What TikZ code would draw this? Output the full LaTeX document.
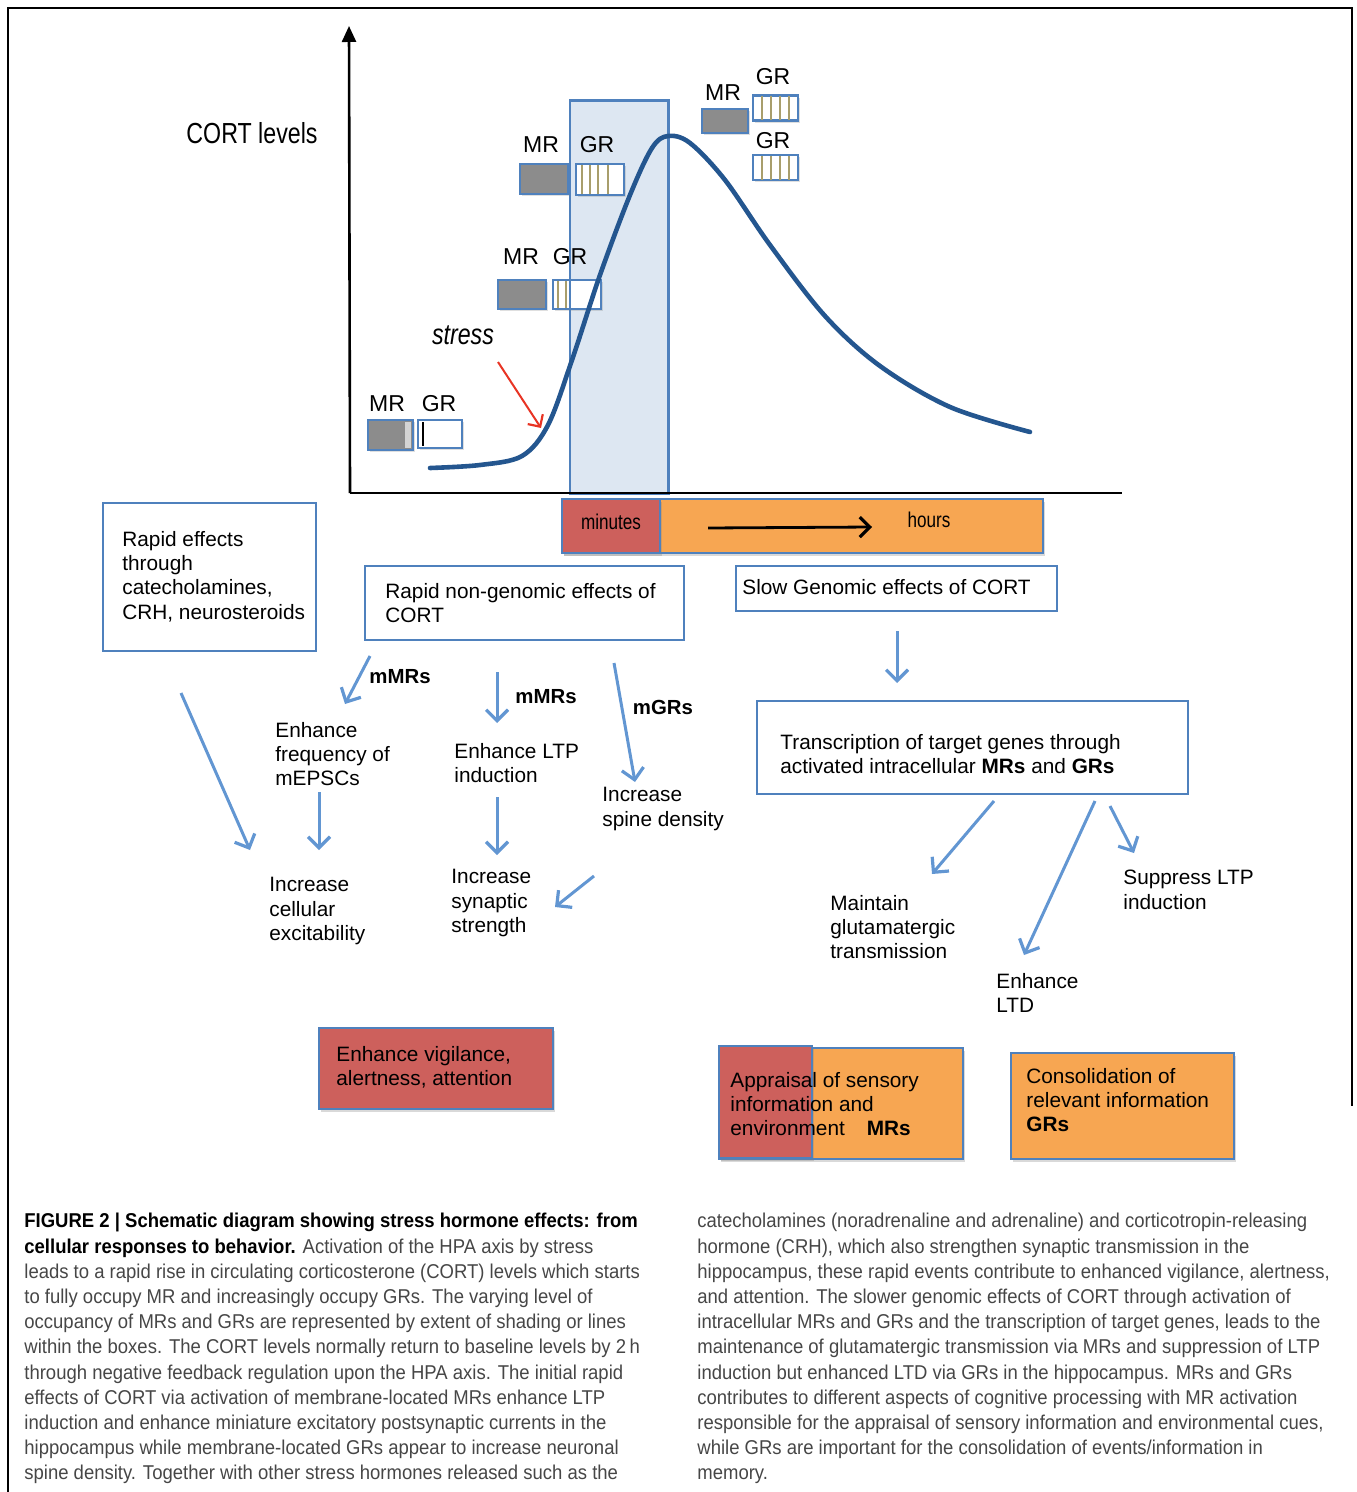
\documentclass[tikz,border=0pt]{standalone}
\usepackage{fontspec}
\setmainfont{Liberation Sans}
\newfontfamily\narrowfont[FakeStretch=0.8]{Liberation Sans}
\newfontfamily\capfont[FakeStretch=0.925]{Liberation Sans}
\usetikzlibrary{arrows.meta,shadows}

\definecolor{boxblue}{RGB}{79,129,189}
\definecolor{arrowblue}{RGB}{98,150,210}
\definecolor{paleblue}{RGB}{221,231,242}
\definecolor{curveblue}{RGB}{36,86,143}
\definecolor{mrgray}{RGB}{140,140,140}
\definecolor{stripgray}{RGB}{212,212,212}
\definecolor{olive}{RGB}{168,158,108}
\definecolor{alertred}{RGB}{205,96,92}
\definecolor{slowfill}{RGB}{247,166,82}
\definecolor{stressred}{RGB}{232,52,36}
\definecolor{captext}{RGB}{70,70,70}

\tikzset{
  txt/.style={inner sep=0pt, align=left, font=\fontsize{10.4}{12.2}\selectfont},
  lbl/.style={inner sep=0pt, font=\fontsize{11.5}{13}\selectfont},
  rlbl/.style={inner sep=0pt, font=\bfseries\fontsize{10.2}{12}\selectfont},
  effbox/.style={draw=boxblue, line width=1.2pt, fill=white, inner sep=0pt},
  fillbox/.style={draw=boxblue, line width=1.2pt, inner sep=0pt,
    drop shadow={shadow xshift=1pt, shadow yshift=-1.5pt, opacity=0.3}},
  mrbox/.style={draw=boxblue, line width=1.1pt, fill=mrgray, inner sep=0pt,
    drop shadow={shadow xshift=1pt, shadow yshift=-1.2pt, opacity=0.25}},
  grbox/.style={mrbox, fill=white},
  bluearr/.style={draw=arrowblue, line width=1.5pt,
    -{Straight Barb[length=5.5pt, width=11pt, line width=1.6pt]}},
  captxt/.style={inner sep=0pt, align=left, text=captext,
    font=\capfont\fontsize{10}{12.6}\selectfont},
}

\begin{document}
\begin{tikzpicture}[x=0.5pt, y=-0.5pt]
\useasboundingbox (0,0) rectangle (1356,1492);

\draw[line width=1.4pt, line cap=rect] (8,1492) -- (8,8) -- (1352,8) -- (1352,1105);

\node[draw=none, fill=paleblue, minimum width=49pt, minimum height=196pt, inner sep=0pt] (minzone) at (619,297) {};

\node[lbl, font=\narrowfont\fontsize{14.5}{16}\selectfont] (cortlbl) at (252,133) {CORT levels};
\node[lbl, font=\narrowfont\itshape\fontsize{14.5}{16}\selectfont] (stresslbl) at (463,335) {stress};

\node[mrbox, minimum width=22.5pt, minimum height=15pt] (mr1) at (390.5,435) {};
\fill[stripgray] (405,422) rectangle (411,448);
\node[grbox, minimum width=22pt, minimum height=14pt] (gr1) at (440,434) {};
\draw[line width=1.3pt] (423,422) -- (423,446);
\node[lbl] (mrl1) at (387,404) {MR};
\node[lbl] (grl1) at (439,404) {GR};

\node[mrbox, minimum width=24pt, minimum height=14.5pt] (mr2) at (522,294.5) {};
\node[grbox, minimum width=24pt, minimum height=14.5pt] (gr2) at (577,294.5) {};
\foreach \lx in {558,566}
  \draw[olive, line width=1.3pt] (\lx,281) -- (\lx,308);
\node[lbl] (mrl2) at (521,257) {MR};
\node[lbl] (grl2) at (570,257) {GR};

\node[mrbox, minimum width=24pt, minimum height=15pt] (mr3) at (544,179) {};
\node[grbox, minimum width=24pt, minimum height=15.5pt] (gr3) at (600,179.5) {};
\foreach \lx in {582,590,598,608}
  \draw[olive, line width=1.3pt] (\lx,165) -- (\lx,194);
\node[lbl] (mrl3) at (541,145) {MR};
\node[lbl] (grl3) at (597,145) {GR};

\node[mrbox, minimum width=23pt, minimum height=12pt] (mr4) at (725,121) {};
\node[grbox, minimum width=22.5pt, minimum height=12.5pt] (gr4) at (775.5,108) {};
\node[grbox, minimum width=22.5pt, minimum height=12.5pt] (gr5) at (775.5,167.5) {};
\foreach \lx in {762,771,780,789} {
  \draw[olive, line width=1.3pt] (\lx,96) -- (\lx,120);
  \draw[olive, line width=1.3pt] (\lx,156) -- (\lx,180);
}
\node[lbl] (mrl4) at (723,93) {MR};
\node[lbl] (grl4) at (773,77) {GR};
\node[lbl] (grl5) at (773,141) {GR};

\draw[boxblue, line width=1.1pt] (minzone.south west) rectangle (minzone.north east);

\draw[curveblue, line width=2.3pt, line cap=round] plot[smooth, tension=0.55] coordinates
  {(430,468) (480,465) (522,456) (548,425) (572,360) (600,275) (630,195) (652,148) (668,136)
   (690,143) (725,180) (770,245) (825,316) (880,366) (950,407) (1030,432)};

\coordinate (stressfrom) at (498,362);
\coordinate (stressto) at (541,428);
\draw[stressred, line width=1pt, -{Straight Barb[length=4.5pt, width=9pt, line width=1.1pt]}] (stressfrom) -- (stressto);

\coordinate (origin) at (350,493);
\coordinate (ytop) at (349,26);
\coordinate (xend) at (1122,493);
\draw[line width=1.3pt, -{Triangle[length=8pt, width=7pt]}] (origin) -- (ytop);
\draw[line width=1.3pt] (origin) -- (xend);

\node[fillbox, fill=slowfill, minimum width=240.5pt, minimum height=27pt] (hoursbar) at (802.5,526) {};
\node[fillbox, fill=alertred, minimum width=49pt, minimum height=27pt, drop shadow={opacity=0}] (minbar) at (611,526) {};
\node[inner sep=0pt, font=\narrowfont\fontsize{10.7}{12}\selectfont] (minlbl) at (611,522) {minutes};
\node[inner sep=0pt, font=\narrowfont\fontsize{10.7}{12}\selectfont] (hourlbl) at (929,520) {hours};
\coordinate (timefrom) at (708,528);
\coordinate (timeto) at (872,527);
\draw[line width=1.4pt, -{Straight Barb[length=5pt, width=10pt, line width=1.6pt]}] (timefrom) -- (timeto);

\node[effbox, minimum width=106.5pt, minimum height=74pt] (fastbox) at (209.5,577) {};
\node[txt, anchor=west] (fasttxt) at (122,576.5) {Rapid effects\\through\\catecholamines,\\CRH, neurosteroids};
\node[effbox, minimum width=159.5pt, minimum height=37pt] (ngbox) at (524.5,603) {};
\node[txt, anchor=west] (ngtxt) at (385,603) {Rapid non-genomic effects of\\CORT};
\node[effbox, minimum width=160.5pt, minimum height=22.5pt] (gbox) at (896.5,588.5) {};
\node[txt, anchor=west] (gtxt) at (742,587) {Slow Genomic effects of CORT};
\node[effbox, minimum width=215.5pt, minimum height=46.5pt] (trbox) at (972.5,747.5) {};
\node[txt, anchor=west] (trtxt) at (780,754) {Transcription of target genes through\\activated intracellular \textbf{MRs} and \textbf{GRs}};

\node[txt, anchor=west] (freqtxt) at (275,754) {Enhance\\frequency of\\mEPSCs};
\node[txt, anchor=west] (exctxt) at (269,911) {Increase\\cellular\\excitability};
\node[txt, anchor=west] (ltptxt) at (454,763) {Enhance LTP\\induction};
\node[txt, anchor=west] (syntxt) at (451,903) {Increase\\synaptic\\strength};
\node[txt, anchor=west] (spinetxt) at (602,809) {Increase\\spine density};
\node[txt, anchor=west] (glutxt) at (830,927) {Maintain\\glutamatergic\\transmission};
\node[txt, anchor=west] (ltdtxt) at (996,993) {Enhance\\LTD};
\node[txt, anchor=west] (suptxt) at (1123,890) {Suppress LTP\\induction};

\node[rlbl] (mmr1) at (400,677) {mMRs};
\node[rlbl] (mmr2) at (546,697) {mMRs};
\node[rlbl] (mgr) at (663,707) {mGRs};

\coordinate (a1s) at (370,656);   \coordinate (a1e) at (345,704);
\coordinate (a2s) at (319,792);   \coordinate (a2e) at (319,850);
\coordinate (a3s) at (181,693);   \coordinate (a3e) at (250,850);
\coordinate (a4s) at (497,672);   \coordinate (a4e) at (497,723);
\coordinate (a5s) at (497,797);   \coordinate (a5e) at (497,855);
\coordinate (a6s) at (614,663);   \coordinate (a6e) at (635,782);
\coordinate (a7s) at (594,876);   \coordinate (a7e) at (555,907);
\coordinate (a8s) at (897,631);   \coordinate (a8e) at (897,683);
\coordinate (a9s) at (994,801);   \coordinate (a9e) at (932,874);
\coordinate (a10s) at (1095,801); \coordinate (a10e) at (1024,955);
\coordinate (a11s) at (1110,806); \coordinate (a11e) at (1134,853);
\foreach \i in {1,...,11}
  \draw[bluearr] (a\i s) -- (a\i e);

\node[fillbox, fill=alertred, minimum width=117pt, minimum height=40.5pt] (vigbox) at (436,1068.5) {};
\node[txt, anchor=west] (vigtxt) at (336,1067) {Enhance vigilance,\\alertness, attention};

\node[fillbox, fill=slowfill, minimum width=122pt, minimum height=55.5pt] (apprbox) at (841,1103.5) {};
\node[fillbox, fill=alertred, minimum width=46.5pt, minimum height=56pt] (apprred) at (765.5,1102) {};
\node[txt, anchor=west] (apprtxt) at (730,1104) {Appraisal of sensory\\information and\\environment\hspace{11pt}\textbf{MRs}};

\node[fillbox, fill=slowfill, minimum width=111.5pt, minimum height=53pt] (consbox) at (1122.5,1106) {};
\node[txt, anchor=west] (constxt) at (1026,1100) {Consolidation of\\relevant information\\\textbf{GRs}};

\node[captxt, anchor=north west] (capleft) at (24,1213) {%
\textcolor{black}{\textbf{FIGURE 2 | Schematic diagram showing stress hormone effects: from}}\\
\textcolor{black}{\textbf{cellular responses to behavior.}} Activation of the HPA axis by stress\\
leads to a rapid rise in circulating corticosterone (CORT) levels which starts\\
to fully occupy MR and increasingly occupy GRs. The varying level of\\
occupancy of MRs and GRs are represented by extent of shading or lines\\
within the boxes. The CORT levels normally return to baseline levels by 2\,h\\
through negative feedback regulation upon the HPA axis. The initial rapid\\
effects of CORT via activation of membrane-located MRs enhance LTP\\
induction and enhance miniature excitatory postsynaptic currents in the\\
hippocampus while membrane-located GRs appear to increase neuronal\\
spine density. Together with other stress hormones released such as the};
\node[captxt, anchor=north west] (capright) at (697,1213) {%
catecholamines (noradrenaline and adrenaline) and corticotropin-releasing\\
hormone (CRH), which also strengthen synaptic transmission in the\\
hippocampus, these rapid events contribute to enhanced vigilance, alertness,\\
and attention. The slower genomic effects of CORT through activation of\\
intracellular MRs and GRs and the transcription of target genes, leads to the\\
maintenance of glutamatergic transmission via MRs and suppression of LTP\\
induction but enhanced LTD via GRs in the hippocampus. MRs and GRs\\
contributes to different aspects of cognitive processing with MR activation\\
responsible for the appraisal of sensory information and environmental cues,\\
while GRs are important for the consolidation of events/information in\\
memory.};
\end{tikzpicture}
\end{document}
